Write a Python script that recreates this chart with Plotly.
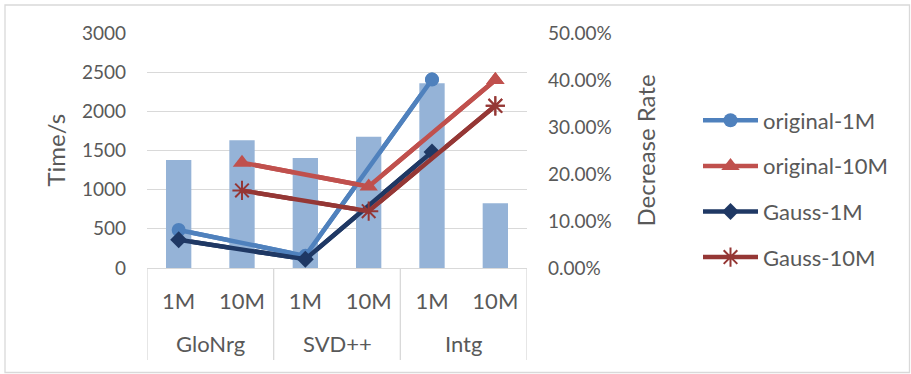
import plotly.graph_objects as go

groups = ["GloNrg", "SVD++", "Intg"]
sizes = ["1M", "10M"]
decrease_rate = [0.230, 0.272, 0.234, 0.279, 0.393, 0.138]
original_1m = [485, 155, 2405]
original_10m = [1345, 1040, 2400]
gauss_1m = [360, 112, 1480]
gauss_10m = [990, 725, 2070]
time_ticks = [0, 500, 1000, 1500, 2000, 2500, 3000]
rate_ticks = [0, 0.1, 0.2, 0.3, 0.4, 0.5]

FONT = "Lato"
GREY = "#595959"
GRID = "#D9D9D9"

n = len(groups) * len(sizes)
pos = list(range(n))
pos_1m = pos[0::2]
pos_10m = pos[1::2]
tick_text = [s for g in groups for s in sizes]

series = [
    ("original-1M", pos_1m, original_1m, "#4F81BD", dict(symbol="circle", size=14)),
    ("original-10M", pos_10m, original_10m, "#C0504D", dict(symbol="triangle-up", size=16)),
    ("Gauss-1M", pos_1m, gauss_1m, "#1F3864", dict(symbol="diamond", size=13)),
    ("Gauss-10M", pos_10m, gauss_10m, "#953735", dict(symbol="asterisk-open", size=16,
                                                   line=dict(width=2, color="#953735"))),
]

fig = go.Figure()

def add_lines(axis, legend):
    for i, (name, xs, ys, col, mk) in enumerate(series):
        mk = dict(mk)
        mk["color"] = col
        fig.add_trace(go.Scatter(x=xs, y=ys, name=name, mode="lines+markers", yaxis=axis,
                                 line=dict(color=col, width=4.5), marker=mk,
                                 legendgroup=f"g{i}", showlegend=legend,
                                 hoverinfo="skip" if not legend else None))

# time lines on the main (left) axis, which carries the gridlines
add_lines("y", False)
# decrease-rate bars on the right axis
fig.add_trace(go.Bar(x=pos, y=decrease_rate, yaxis="y2", width=0.4,
                     marker=dict(color="#95B3D7", line=dict(width=0)),
                     showlegend=False, name="Decrease Rate"))
# same time lines again on a hidden overlay axis so they sit above the bars
add_lines("y3", True)

# layout in pixels
L, R, T, B = 147, 384, 33, 106
W, H = 911, 374
pw, ph = W - L - R, H - T - B

def px_x(p):
    return (p - L) / pw

def px_y(p):
    return (H - B - p) / ph

shapes = []
for xb in [-0.5, 1.5, 3.5, 5.5]:
    shapes.append(dict(type="line", xref="x", yref="paper", x0=xb, x1=xb,
                       y0=0, y1=px_y(360), line=dict(color=GRID, width=1.3)))
shapes.append(dict(type="rect", xref="paper", yref="paper",
                   x0=px_x(5), x1=px_x(909.5), y0=px_y(372.5), y1=px_y(5),
                   line=dict(color=GRID, width=1.3), fillcolor="rgba(0,0,0,0)"))

annotations = []
for gi, g in enumerate(groups):
    annotations.append(dict(text=g, xref="x", yref="paper", x=gi * 2 + 0.5,
                            y=px_y(343), showarrow=False, xanchor="center",
                            yanchor="middle", font=dict(family=FONT, size=22, color=GREY)))
annotations.append(dict(text="Time/s", xref="paper", yref="paper", x=px_x(55),
                        y=0.5, textangle=-90, showarrow=False, xanchor="center",
                        yanchor="middle", font=dict(family=FONT, size=24, color=GREY)))
annotations.append(dict(text="Decrease Rate", xref="paper", yref="paper", x=px_x(645),
                        y=0.5, textangle=-90, showarrow=False, xanchor="center",
                        yanchor="middle", font=dict(family=FONT, size=24, color=GREY)))

fig.update_layout(
    width=W, height=H,
    margin=dict(l=L, r=R, t=T, b=B, pad=0),
    paper_bgcolor="white", plot_bgcolor="white",
    font=dict(family=FONT, color=GREY),
    xaxis=dict(range=[-0.5, n - 0.5], tickvals=pos, ticktext=tick_text,
               showgrid=False, zeroline=False, showline=True, linecolor=GRID,
               linewidth=1.3, ticks="", ticklabelstandoff=13,
               tickfont=dict(family=FONT, size=22, color=GREY)),
    yaxis=dict(range=[0, 3000], tickvals=time_ticks, showgrid=True,
               gridcolor=GRID, gridwidth=1.3, zeroline=False, showline=False,
               ticks="", ticklabelstandoff=20,
               tickfont=dict(family=FONT, size=19, color=GREY)),
    yaxis2=dict(range=[0, 0.5], tickvals=rate_ticks, tickformat=".2%",
                overlaying="y", side="right", showgrid=False, zeroline=False,
                showline=False, ticks="", ticklabelstandoff=20,
                tickfont=dict(family=FONT, size=19, color=GREY)),
    yaxis3=dict(range=[0, 3000], overlaying="y", side="left", visible=False,
                showgrid=False, zeroline=False),
    legend=dict(x=px_x(698), xanchor="left", y=px_y(189), yanchor="middle",
                font=dict(family=FONT, size=22, color=GREY), itemwidth=55,
                tracegroupgap=14, traceorder="grouped", bgcolor="rgba(0,0,0,0)"),
    shapes=shapes, annotations=annotations,
    bargap=0.6,
)

fig.write_html("out.html")
